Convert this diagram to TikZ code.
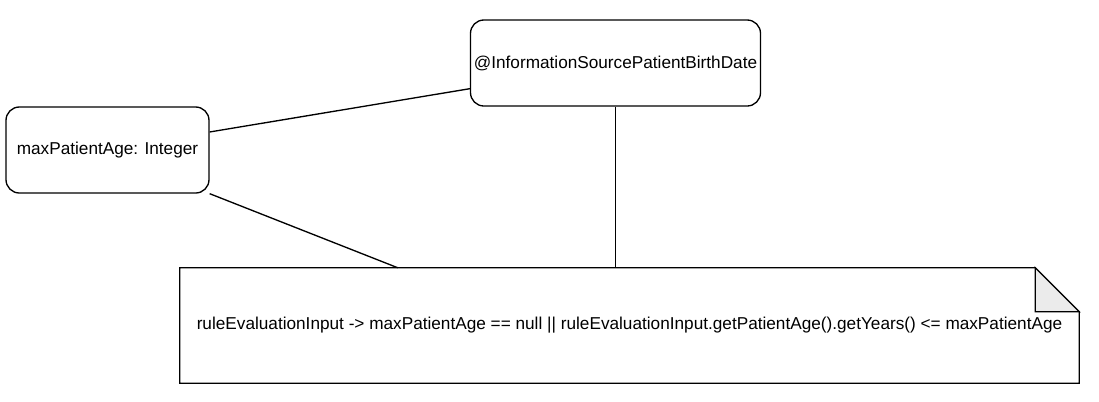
\documentclass[tikz,border=0pt]{standalone}
\usepackage{fontspec}
\setmainfont{Liberation Sans}
\usetikzlibrary{calc,positioning}

\definecolor{foldgray}{HTML}{EBEBEB}

\begin{document}
\begin{tikzpicture}[
  x=0.75pt, y=-0.75pt,
  box/.style={rectangle, draw, rounded corners=10pt, line width=1pt,
              font=\fontsize{12.9}{15.5}\selectfont, align=center, inner sep=0pt},
  notebox/.style={rectangle, draw=none, minimum width=674.25pt, minimum height=86.25pt,
                  font=\fontsize{12.9}{15.5}\selectfont, inner sep=0pt},
  link/.style={line width=1pt},
]
\useasboundingbox (0,0) rectangle (1099,401);

\node[box, minimum width=152.25pt, minimum height=64.5pt] (maxage) at (107.5,150) {maxPatientAge: Integer};
\node[box, minimum width=217.5pt, minimum height=64.5pt] (birth) at (615.5,63) {@InformationSourcePatientBirthDate};
\node[notebox] (rule) at (629.5,325.5) {ruleEvaluationInput -> maxPatientAge == null || ruleEvaluationInput.getPatientAge().getYears() <= maxPatientAge};

% note outline with folded corner
\draw[line width=1pt] (rule.north west) -- ($(rule.north east)+(-44,0)$) -- ($(rule.north east)+(0,44)$)
  -- (rule.south east) -- (rule.south west) -- cycle;
\draw[line width=1pt, fill=foldgray] ($(rule.north east)+(-44,0)$) -- ($(rule.north east)+(-44,44)$)
  -- ($(rule.north east)+(0,44)$) -- cycle;

\draw[link] (maxage.10) -- (birth.190);
\draw[link] (maxage.south east) -- (rule.166);
\draw[link] (birth.south) -- (birth.south |- rule.north);
\end{tikzpicture}
\end{document}
